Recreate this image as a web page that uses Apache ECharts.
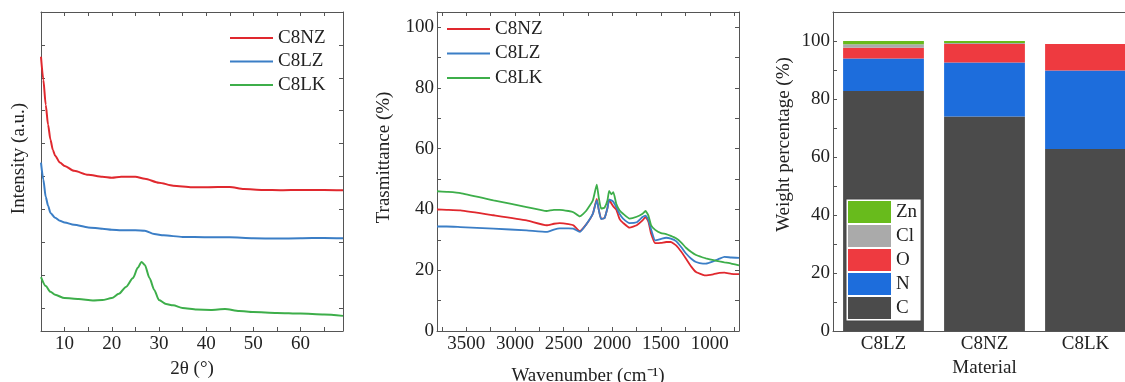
<!DOCTYPE html>
<html>
<head>
<meta charset="utf-8">
<script src="https://cdn.jsdelivr.net/npm/echarts@6/dist/echarts.min.js"></script>
<style>
  html, body { margin: 0; padding: 0; background: #fff; }
  #chart { width: 1125px; height: 382px; }
</style>
</head>
<body>
<div id="chart"></div>
<script>
// ---- XRD patterns (2θ in degrees, intensity in arbitrary units) ----
const xrdAngleNZ = [5, 5.5, 6, 6.5, 7, 7.5, 8, 9, 10, 12, 15, 18, 20, 22, 25, 27, 30, 33, 37, 40, 45, 48, 52, 56, 60, 65, 69];
const xrdC8NZ = [83.4, 76.4, 68.8, 62.7, 58.2, 55.1, 53.3, 51.2, 50.2, 48.7, 47.5, 46.9, 46.6, 46.9, 46.9, 46.3, 45.1, 44.2, 43.7, 43.7, 43.8, 43.2, 42.9, 42.8, 42.9, 42.9, 42.8];

const xrdAngleLZ = [5, 5.5, 6, 6.5, 7, 8, 9, 10, 12, 15, 18, 20, 22, 25, 27, 29, 31, 35, 40, 45, 50, 55, 60, 65, 69];
const xrdC8LZ = [51.2, 46.0, 40.8, 38.1, 35.9, 34.4, 33.5, 33.0, 32.3, 31.5, 31.1, 30.8, 30.6, 30.6, 30.5, 29.5, 29.1, 28.6, 28.5, 28.5, 28.2, 28.1, 28.2, 28.3, 28.2];

const xrdAngleLK = [5, 6, 7, 8, 10, 13, 16, 18, 20, 21.5, 23, 24.5, 25.5, 26.3, 27, 28, 29, 30, 31.5, 33, 35, 38, 41, 44, 47, 50, 55, 60, 65, 69];
const xrdC8LK = [16.4, 13.7, 11.9, 11.0, 10.0, 9.7, 9.3, 9.4, 10.0, 11.3, 13.4, 16.1, 19.2, 21.0, 20.1, 16.1, 12.5, 9.4, 8.2, 7.8, 7.0, 6.5, 6.4, 6.7, 6.1, 5.8, 5.5, 5.3, 5.0, 4.6];

const xrdAngleLabels = [10, 20, 30, 40, 50, 60];
const xrdAngleTicks = [10, 15, 20, 25, 30, 35, 40, 45, 50, 55, 60, 65];
const xrdIntensityTicks = [7, 17, 27, 37, 47, 57, 67, 77, 87];

// ---- FTIR spectra (wavenumber in cm-1, transmittance in %) ----
const wavenumber = [3800, 3700, 3560, 3220, 2880, 2675, 2600, 2540, 2450, 2400, 2335, 2270, 2200, 2160, 2140, 2115, 2080, 2050, 2033, 2010, 1990, 1960, 1925, 1890, 1823, 1750, 1690, 1660, 1630, 1602, 1560, 1500, 1448, 1400, 1346, 1290, 1244, 1190, 1141, 1070, 1040, 960, 900, 850, 780, 700];
const ftirC8NZ = [40.0, 39.9, 39.7, 38.1, 36.4, 34.8, 35.3, 35.5, 35.2, 34.8, 32.9, 35.0, 38.6, 43.5, 40.0, 37.0, 37.2, 40.5, 43.2, 42.0, 41.0, 40.0, 36.8, 35.6, 34.0, 34.8, 36.4, 37.5, 36.0, 32.0, 28.9, 29.0, 29.3, 29.3, 28.2, 26.0, 23.8, 21.2, 19.4, 18.5, 18.3, 18.7, 19.1, 19.2, 18.8, 18.7];
const ftirC8LZ = [34.4, 34.4, 34.2, 33.7, 33.1, 32.6, 33.4, 33.8, 33.8, 33.7, 32.6, 35.0, 38.6, 43.0, 40.0, 36.8, 37.2, 40.5, 43.2, 43.0, 42.5, 40.8, 38.5, 37.0, 35.5, 35.8, 37.5, 38.0, 36.5, 33.4, 29.8, 30.3, 30.7, 30.4, 29.6, 27.5, 25.5, 23.8, 22.7, 22.2, 22.2, 23.0, 23.8, 24.4, 24.2, 24.1];
const ftirC8LK = [46.0, 45.8, 45.4, 43.0, 40.8, 39.5, 39.9, 39.9, 39.5, 39.1, 37.7, 39.5, 43.0, 48.2, 44.0, 40.3, 40.6, 43.0, 46.1, 45.0, 45.7, 41.9, 39.7, 38.6, 37.0, 37.6, 38.6, 39.5, 38.0, 34.8, 33.3, 32.2, 31.9, 31.3, 30.5, 29.0, 27.4, 26.0, 25.0, 24.2, 23.9, 23.3, 22.9, 22.6, 22.2, 21.6];

const wavenumberLabels = [1000, 1500, 2000, 2500, 3000, 3500];
const wavenumberTicks = [750, 1000, 1250, 1500, 1750, 2000, 2250, 2500, 2750, 3000, 3250, 3500, 3750];
const transmittanceLabels = [0, 20, 40, 60, 80, 100];
const transmittanceTicks = [10, 20, 30, 40, 50, 60, 70, 80, 90, 100];

// ---- Elemental composition (weight %) ----
const materials = ['C8LZ', 'C8NZ', 'C8LK'];
const wtC = [82.8, 74.0, 62.8];
const wtN = [11.2, 18.6, 27.0];
const wtO = [3.7, 6.4, 9.2];
const wtCl = [1.2, 0.3, 0];
const wtZn = [1.1, 0.7, 0];
const weightLabels = [0, 20, 40, 60, 80, 100];
const weightTicks = [10, 20, 30, 40, 50, 60, 70, 80, 90, 100];

// ---- styling ----
const FONT = 'Liberation Serif';
const INK = '#222';
const FRAME = '#555';
const RED = '#e0282e';
const BLUE = '#3b7ec6';
const GREEN = '#3dae4a';
const ELEMENT_COLORS = { C: '#4b4b4b', N: '#1d6ddc', O: '#ee3a40', Cl: '#aaaaaa', Zn: '#68bb1c' };

const pairs = (xs, ys) => xs.map((x, i) => [x, ys[i]]);
const plain = (v) => String(v);

const lineStyleAxis = { show: true, onZero: false, lineStyle: { color: FRAME, width: 1 } };
const tickIn = (values) => ({ show: true, inside: true, length: 4, customValues: values, lineStyle: { color: FRAME } });
const labelStyle = (values, margin) => ({
  show: true, customValues: values, margin: margin, formatter: plain,
  fontFamily: FONT, fontSize: 19, color: INK
});
const nameStyle = (padding) => ({ fontFamily: FONT, fontSize: 19, color: INK, padding: padding || 0 });

const grids = [
  { left: 41, top: 12, width: 302, height: 319, outerBoundsMode: 'none', containLabel: false },
  { left: 437, top: 12, width: 302, height: 319, outerBoundsMode: 'none', containLabel: false },
  { left: 833, top: 12, width: 303, height: 319, outerBoundsMode: 'none', containLabel: false }
];

const xAxes = [
  { // XRD bottom
    gridIndex: 0, type: 'value', position: 'bottom', min: 5, max: 69,
    axisLine: lineStyleAxis, axisTick: tickIn(xrdAngleTicks),
    axisLabel: labelStyle(xrdAngleLabels, 4), splitLine: { show: false },
    name: '2θ (°)', nameLocation: 'middle', nameGap: 29, nameTextStyle: nameStyle()
  },
  { // XRD top frame
    gridIndex: 0, type: 'value', position: 'top', min: 5, max: 69,
    axisLine: lineStyleAxis, axisTick: tickIn(xrdAngleTicks),
    axisLabel: { show: false }, splitLine: { show: false }
  },
  { // FTIR bottom
    gridIndex: 1, type: 'value', position: 'bottom', min: 700, max: 3800, inverse: true,
    axisLine: lineStyleAxis, axisTick: tickIn(wavenumberTicks),
    axisLabel: labelStyle(wavenumberLabels, 4), splitLine: { show: false },
    name: 'Wavenumber (cm⁻¹)', nameLocation: 'middle', nameGap: 36, nameTextStyle: nameStyle()
  },
  { // FTIR top frame
    gridIndex: 1, type: 'value', position: 'top', min: 700, max: 3800, inverse: true,
    axisLine: lineStyleAxis, axisTick: tickIn(wavenumberTicks),
    axisLabel: { show: false }, splitLine: { show: false }
  },
  { // composition bottom
    gridIndex: 2, type: 'category', position: 'bottom', data: materials,
    axisLine: lineStyleAxis,
    axisTick: { show: true, inside: true, length: 4, alignWithLabel: true, lineStyle: { color: FRAME } },
    axisLabel: { show: true, margin: 4, fontFamily: FONT, fontSize: 19, color: INK },
    splitLine: { show: false },
    name: 'Material', nameLocation: 'middle', nameGap: 28, nameTextStyle: nameStyle()
  },
  { // composition top frame
    gridIndex: 2, type: 'category', position: 'top', data: materials,
    axisLine: lineStyleAxis, axisTick: { show: false }, axisLabel: { show: false }, splitLine: { show: false }
  }
];

const yAxes = [
  { // XRD left
    gridIndex: 0, type: 'value', position: 'left', min: 0, max: 97,
    axisLine: lineStyleAxis, axisTick: tickIn(xrdIntensityTicks),
    axisLabel: { show: false }, splitLine: { show: false },
    name: 'Intensity (a.u.)', nameLocation: 'middle', nameGap: 12, nameTextStyle: nameStyle([0, 0, 0, 26])
  },
  { // XRD right frame
    gridIndex: 0, type: 'value', position: 'right', min: 0, max: 97,
    axisLine: lineStyleAxis, axisTick: tickIn(xrdIntensityTicks),
    axisLabel: { show: false }, splitLine: { show: false }
  },
  { // FTIR left
    gridIndex: 1, type: 'value', position: 'left', min: 0, max: 105,
    axisLine: lineStyleAxis, axisTick: tickIn(transmittanceTicks),
    axisLabel: labelStyle(transmittanceLabels, 3), splitLine: { show: false },
    name: 'Trasmittance (%)', nameLocation: 'middle', nameGap: 43, nameTextStyle: nameStyle([0, 0, 0, 28])
  },
  { // FTIR right frame
    gridIndex: 1, type: 'value', position: 'right', min: 0, max: 105,
    axisLine: lineStyleAxis, axisTick: tickIn(transmittanceTicks),
    axisLabel: { show: false }, splitLine: { show: false }
  },
  { // composition left
    gridIndex: 2, type: 'value', position: 'left', min: 0, max: 110,
    axisLine: lineStyleAxis, axisTick: tickIn(weightTicks),
    axisLabel: labelStyle(weightLabels, 3), splitLine: { show: false },
    name: 'Weight percentage (%)', nameLocation: 'middle', nameGap: 39, nameTextStyle: nameStyle([0, 0, 0, 54])
  }
];

const xrdLine = (name, color, xs, ys) => ({
  name, type: 'line', xAxisIndex: 0, yAxisIndex: 0,
  data: pairs(xs, ys), symbol: 'none', smooth: 0.25, smoothMonotone: 'x',
  lineStyle: { color, width: 2 }, itemStyle: { color }, z: 3
});
const ftirLine = (name, color, ys) => ({
  name, type: 'line', xAxisIndex: 2, yAxisIndex: 2,
  data: pairs(wavenumber, ys), symbol: 'none', smooth: 0.15,
  lineStyle: { color, width: 1.8 }, itemStyle: { color }, z: 3
});
const stackBar = (name, values) => ({
  name, type: 'bar', xAxisIndex: 4, yAxisIndex: 4, stack: 'wt',
  data: values, barWidth: '80%',
  itemStyle: { color: ELEMENT_COLORS[name] }
});

const legendText = { fontFamily: FONT, fontSize: 19, color: INK, lineHeight: 20 };
const lineLegend = (left, top, gap) => ({
  left, top, orient: 'vertical', padding: 0, itemGap: gap,
  icon: 'rect', itemWidth: 43, itemHeight: 2, textStyle: legendText,
  data: ['C8NZ', 'C8LZ', 'C8LK'], selectedMode: false
});

const option = {
  animation: false,
  backgroundColor: '#fff',
  grid: grids,
  xAxis: xAxes,
  yAxis: yAxes,
  legend: [
    lineLegend(230, 28, 3.5),
    lineLegend(447, 19, 4.5),
    {
      left: 846, top: 199, orient: 'vertical', padding: [2, 4, 2, 2], itemGap: 2,
      itemWidth: 43, itemHeight: 22, icon: 'rect',
      backgroundColor: '#fff', borderColor: '#444', borderWidth: 1,
      textStyle: legendText,
      data: ['Zn', 'Cl', 'O', 'N', 'C'], selectedMode: false
    }
  ],
  series: [
    xrdLine('C8NZ', RED, xrdAngleNZ, xrdC8NZ),
    xrdLine('C8LZ', BLUE, xrdAngleLZ, xrdC8LZ),
    xrdLine('C8LK', GREEN, xrdAngleLK, xrdC8LK),
    ftirLine('C8NZ', RED, ftirC8NZ),
    ftirLine('C8LZ', BLUE, ftirC8LZ),
    ftirLine('C8LK', GREEN, ftirC8LK),
    stackBar('C', wtC),
    stackBar('N', wtN),
    stackBar('O', wtO),
    stackBar('Cl', wtCl),
    stackBar('Zn', wtZn)
  ]
};

const chart = echarts.init(document.getElementById('chart'), null, { renderer: 'canvas' });
chart.setOption(option);
</script>
</body>
</html>
